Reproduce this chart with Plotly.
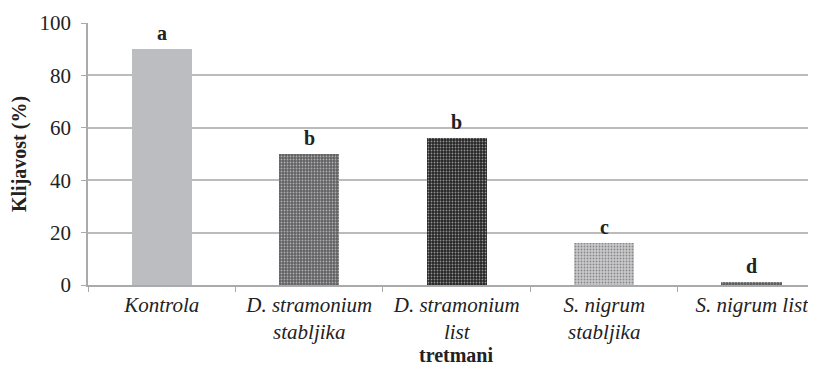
import plotly.graph_objects as go

categories = ["Kontrola", "D. stramonium<br>stabljika", "D. stramonium<br>list",
              "S. nigrum<br>stabljika", "S. nigrum list"]
values = [90, 50, 56, 16, 1]
letters = ["a", "b", "b", "c", "d"]
y_ticks = [0, 20, 40, 60, 80, 100]

bar_colors = ["#bcbdc0", "#606062", "#242424", "#cbcbcd", "#5a5a5a"]
pat_shapes = ["", ".", ".", ".", "."]
pat_fg = ["#bcbdc0", "#8a8a8c", "#555555", "#a9a9ab", "#999999"]

FONT = "Liberation Serif"

fig = go.Figure()
fig.add_trace(go.Bar(
    x=categories, y=values, width=0.41,
    marker=dict(color=bar_colors, line=dict(width=0),
                pattern=dict(shape=pat_shapes, fgcolor=pat_fg, size=3, solidity=0.3,
                             fillmode="overlay")),
    showlegend=False,
))
for cat, v, l in zip(categories, values, letters):
    fig.add_annotation(x=cat, y=v, text=f"<b>{l}</b>", showarrow=False,
                       yanchor="bottom", yshift=3,
                       font=dict(family=FONT, size=20, color="#222"))

fig.update_layout(
    width=816, height=365,
    margin=dict(l=80, r=0, t=15, b=88),
    plot_bgcolor="white", paper_bgcolor="white",
    bargap=0,
)
fig.update_xaxes(
    range=[-0.5, 4.49], showline=True, linecolor="#aaaaaa", linewidth=1.5,
    ticks="outside", tickson="boundaries", ticklen=5, tickcolor="#aaaaaa",
    tickfont=dict(size=21, family=FONT, style="italic", color="#222"), automargin=False,
    title=dict(text="<b>tretmani</b>", font=dict(size=20, family=FONT, color="#222"),
               standoff=0),
)
fig.update_yaxes(
    range=[0, 100], tickvals=y_ticks, showline=True, linecolor="#aaaaaa", linewidth=1.5,
    ticks="outside", ticklen=5, tickcolor="#aaaaaa", ticklabelstandoff=6,
    showgrid=True, gridcolor="#bbbbbb", gridwidth=1.5,
    tickfont=dict(size=21, family=FONT, color="#222"), automargin=False,
    title=dict(text="<b>Klijavost (%)</b>", font=dict(size=20, family=FONT, color="#222"),
               standoff=14),
    zeroline=False,
)

fig.write_html("out.html")
